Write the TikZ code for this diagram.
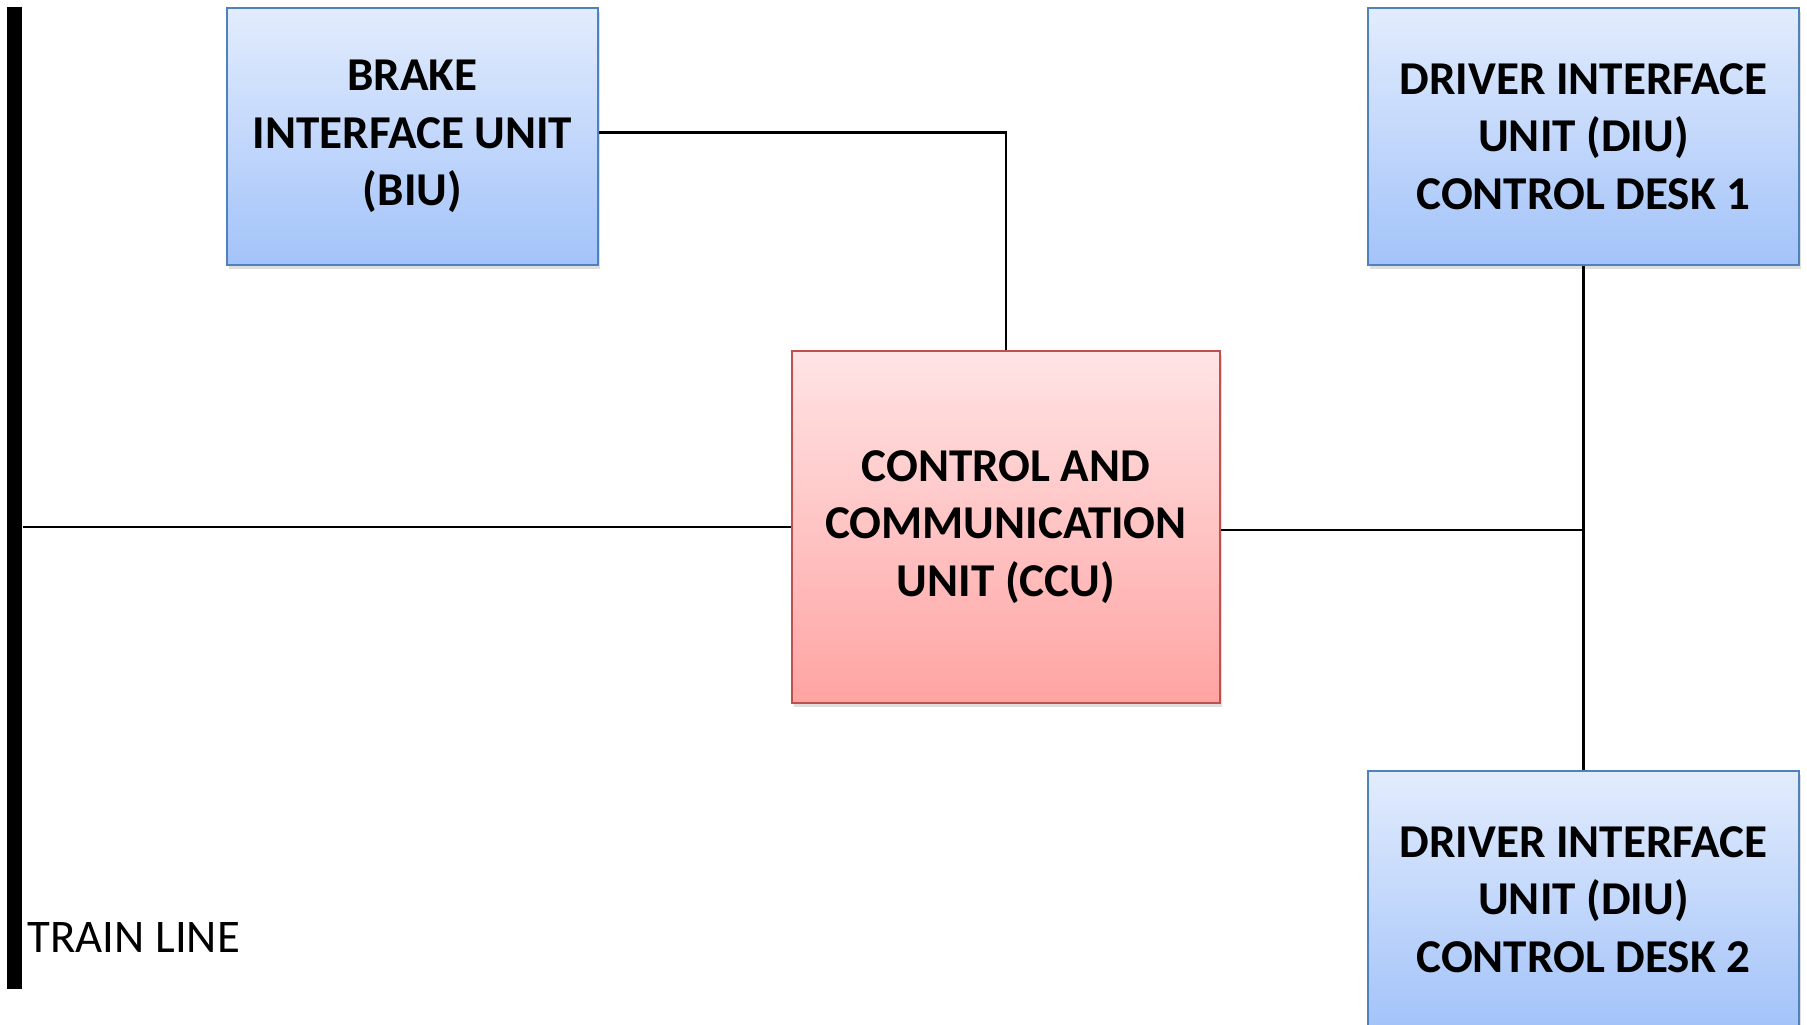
\documentclass[tikz,border=0pt]{standalone}
\usepackage{fontspec}
\setmainfont{Carlito}
\usetikzlibrary{positioning, shadows}
\definecolor{unitblue}{HTML}{4F81BD}
\definecolor{unitbluetop}{HTML}{E2ECFD}
\definecolor{unitbluebot}{HTML}{A3C3F9}
\definecolor{unitred}{HTML}{C0504D}
\definecolor{unitredtop}{HTML}{FFE4E5}
\definecolor{unitredbot}{HTML}{FFA4A3}

\begin{document}
\begin{tikzpicture}[
    unit/.style={draw=unitblue,line width=0.6pt,top color=unitbluetop,bottom color=unitbluebot,minimum width=4.31cm,minimum height=2.57cm,align=center,font=\bfseries\fontsize{13.4}{16.4}\selectfont,drop shadow={opacity=0.25,shadow xshift=0.02cm,shadow yshift=-0.04cm}},
    ccunit/.style={unit,draw=unitred,top color=unitredtop,bottom color=unitredbot,minimum width=4.28cm,minimum height=3.52cm},
    link/.style={draw,line width=0.6pt},
    node distance=5.04cm
  ]
    \useasboundingbox (0,0) rectangle (18.07,10.25);

    \node[fill=black,minimum width=0.15cm,minimum height=9.82cm,inner sep=0] (trainline) at (0.145,5.27) {};
    \node[anchor=base west,inner sep=0,font=\fontsize{13.3}{16}\selectfont] (trainlabel) at (0.27,0.72) {TRAIN LINE};

    \node[unit,minimum width=3.71cm] (biu) at (4.125,8.885) {BRAKE\\INTERFACE UNIT\\(BIU)};
    \node[unit] (diu1) at (15.835,8.885) {DRIVER INTERFACE\\UNIT (DIU)\\CONTROL DESK 1};
    \node[unit, below=of diu1] (diu2) {DRIVER INTERFACE\\UNIT (DIU)\\CONTROL DESK 2};
    \node[ccunit] (ccu) at (10.06,4.98) {CONTROL AND\\COMMUNICATION\\UNIT (CCU)};

    \coordinate (tap) at ([yshift=-0.03cm]ccu.east -| diu1.south);
    \draw[link] ([yshift=0.04cm]biu.east) -| (ccu.north);
    \draw[link] (trainline.east |- ccu.west) -- (ccu.west);
    \draw[link] ([yshift=-0.03cm]ccu.east) -- (tap);
    \draw[link] (diu1.south) -- (diu2.north);
  \end{tikzpicture}
\end{document}
